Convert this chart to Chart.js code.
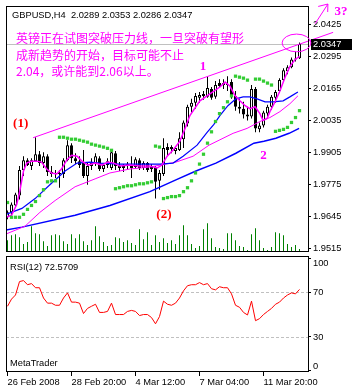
<!DOCTYPE html>
<html>
<head>
<meta charset="utf-8">
<script src="https://cdn.jsdelivr.net/npm/chart.js@4.4.1/dist/chart.umd.min.js"></script>
<style>
    body { margin: 0; background: #fff; }
    #wrap { position: relative; width: 352px; height: 391px; overflow: hidden; background: #fff; }
    canvas { position: absolute; left: 0; }
    .mt { position: absolute; font: 9.3px 'Liberation Sans', Arial, sans-serif; line-height: 12px; color: #000; white-space: pre; }
    #note { position: absolute; left: 16px; top: 30px; font: 12px 'Noto Sans CJK SC', sans-serif; line-height: 16.7px; color: #ff00ff; white-space: pre; }
</style>
</head>
<body>
<div id="wrap">
    <canvas id="priceChart" width="352" height="256" style="top:0"></canvas>
    <canvas id="rsiChart" width="352" height="136" style="top:255px"></canvas>
    <div class="mt" style="left:12px;top:9px">GBPUSD,H4  2.0289 2.0353 2.0286 2.0347</div>
    <div id="note">英镑正在试图突破压力线，一旦突破有望形
成新趋势的开始，目标可能不止
2.04，或许能到2.06以上。</div>
    <div class="mt" style="left:10px;top:261px">RSI(12) 72.5709</div>
    <div class="mt" style="left:10px;top:357px">MetaTrader</div>
</div>
<script>
// Eixo do tempo (barras H4, índice 0 = 26 Feb 2008)
const tickIndex = [0, 16, 32, 48, 64];
const tickLabels = ['26 Feb 2008', '28 Feb 20:00', '4 Mar 12:00', '7 Mar 04:00', '11 Mar 20:00'];

// Rótulos dos eixos de preço e RSI
const priceTicks = [1.9515, 1.9645, 1.9775, 1.9905, 2.0035, 2.0165, 2.0295, 2.0425];
const rsiTicks = [0, 30, 70, 100];
const rsiLevels = [30, 70];

// Velas GBPUSD H4
const open = [1.9643, 1.9663, 1.9691, 1.9731, 1.9835, 1.9875, 1.9851, 1.9871, 1.9899, 1.9863,
    1.9891, 1.9827, 1.9819, 1.9823, 1.9819, 1.9875, 1.9936, 1.9883, 1.9871, 1.9863,
    1.9811, 1.9851, 1.9863, 1.9883, 1.9839, 1.9855, 1.9843, 1.9903, 1.9851, 1.9843,
    1.9851, 1.9855, 1.9847, 1.9875, 1.9843, 1.9863, 1.9839, 1.9843, 1.9791, 1.9819,
    1.9928, 1.9920, 1.9912, 1.9916, 1.9960, 2.0024, 2.0092, 2.0108, 2.0128, 2.0136,
    2.0132, 2.0164, 2.0132, 2.0188, 2.0180, 2.0184, 2.0192, 2.0136, 2.0092, 2.0084,
    2.0060, 2.0052, 2.0164, 2.0000, 2.0016, 2.0064, 2.0092, 2.0128, 2.0156, 2.0200,
    2.0236, 2.0252, 2.0284, 2.0289];
const high = [1.9671, 1.9703, 1.9743, 1.9851, 1.9891, 1.9883, 1.9883, 1.9968, 1.9912, 1.9907,
    1.9899, 1.9851, 1.9835, 1.9835, 1.9883, 1.9956, 1.9944, 1.9903, 1.9891, 1.9916,
    1.9863, 1.9883, 1.9903, 1.9891, 1.9863, 1.9883, 1.9916, 1.9912, 1.9867, 1.9859,
    1.9867, 1.9891, 1.9887, 1.9883, 1.9871, 1.9867, 1.9859, 1.9851, 1.9835, 1.9964,
    1.9944, 1.9936, 1.9932, 1.9988, 2.0036, 2.0100, 2.0124, 2.0148, 2.0152, 2.0156,
    2.0216, 2.0172, 2.0196, 2.0204, 2.0204, 2.0216, 2.0204, 2.0156, 2.0124, 2.0112,
    2.0092, 2.0180, 2.0172, 2.0028, 2.0076, 2.0100, 2.0140, 2.0160, 2.0208, 2.0248,
    2.0260, 2.0292, 2.0316, 2.0353];
const low = [1.9635, 1.9651, 1.9683, 1.9715, 1.9811, 1.9851, 1.9835, 1.9867, 1.9851, 1.9843,
    1.9811, 1.9807, 1.9803, 1.9763, 1.9803, 1.9871, 1.9863, 1.9859, 1.9843, 1.9803,
    1.9775, 1.9835, 1.9851, 1.9831, 1.9827, 1.9843, 1.9835, 1.9835, 1.9831, 1.9827,
    1.9835, 1.9803, 1.9839, 1.9835, 1.9835, 1.9827, 1.9827, 1.9719, 1.9755, 1.9811,
    1.9895, 1.9903, 1.9899, 1.9912, 1.9924, 2.0012, 2.0068, 2.0084, 2.0108, 2.0120,
    2.0128, 2.0120, 2.0124, 2.0172, 2.0164, 2.0156, 2.0124, 2.0076, 2.0064, 2.0044,
    2.0036, 2.0044, 1.9988, 1.9988, 2.0008, 2.0052, 2.0080, 2.0108, 2.0148, 2.0192,
    2.0224, 2.0248, 2.0276, 2.0286];
const close = [1.9663, 1.9695, 1.9735, 1.9835, 1.9875, 1.9855, 1.9875, 1.9899, 1.9863, 1.9891,
    1.9827, 1.9819, 1.9823, 1.9819, 1.9875, 1.9936, 1.9883, 1.9871, 1.9855, 1.9811,
    1.9851, 1.9863, 1.9891, 1.9839, 1.9855, 1.9871, 1.9907, 1.9851, 1.9843, 1.9851,
    1.9859, 1.9843, 1.9879, 1.9843, 1.9863, 1.9835, 1.9847, 1.9787, 1.9823, 1.9924,
    1.9916, 1.9928, 1.9924, 1.9964, 2.0028, 2.0092, 2.0108, 2.0136, 2.0140, 2.0144,
    2.0168, 2.0128, 2.0180, 2.0176, 2.0188, 2.0180, 2.0132, 2.0092, 2.0084, 2.0060,
    2.0052, 2.0164, 2.0004, 2.0016, 2.0068, 2.0092, 2.0132, 2.0152, 2.0200, 2.0240,
    2.0252, 2.0284, 2.0288, 2.0347];
const volume = [1200, 1700, 1800, 1500, 800, 1000, 2600, 1900, 1800, 1100,
    600, 1700, 1800, 1700, 1100, 800, 1800, 1400, 1800, 1100,
    700, 1200, 2600, 1600, 1000, 600, 700, 1500, 1400, 1000,
    1200, 900, 700, 2300, 1300, 2000, 700, 1700, 1000, 1400,
    900, 1200, 800, 1700, 2700, 1700, 800, 400, 600, 2300,
    2900, 1400, 500, 400, 300, 1900, 1900, 1200, 600, 500,
    200, 1800, 2400, 1200, 400, 200, 500, 2000, 1900, 1700,
    800, 500, 700, 300];

// Médias móveis: [barra, preço]
const fastMa = [[-0.375, 1.9643], [1.0, 1.9651], [2.3, 1.9695], [3.1, 1.9751], [4.0, 1.9831], [4.8, 1.9863],
    [6.0, 1.9871], [7.3, 1.9871], [8.5, 1.9867], [9.8, 1.9839], [11.0, 1.9823], [12.3, 1.9819],
    [13.5, 1.9839], [14.8, 1.9875], [16.0, 1.9895], [17.4, 1.9891], [18.6, 1.9871], [20.1, 1.9855],
    [21.9, 1.9863], [23.6, 1.9855], [25.1, 1.9867], [26.6, 1.9863], [28.1, 1.9851], [30.6, 1.9855],
    [33.1, 1.9851], [35.6, 1.9851], [37.4, 1.9843], [38.6, 1.9855], [39.9, 1.9891], [41.4, 1.9916],
    [43.1, 1.9952], [44.4, 2.0004], [45.6, 2.0056], [48.1, 2.0116], [50.6, 2.0144], [53.1, 2.0172],
    [54.4, 2.0192], [55.6, 2.0176], [56.9, 2.0136], [58.1, 2.0116], [59.4, 2.0096], [60.6, 2.0084],
    [61.9, 2.0092], [63.1, 2.0064], [63.9, 2.0036], [64.9, 2.0044], [65.6, 2.0072], [66.9, 2.0112],
    [68.1, 2.0156], [69.4, 2.0212], [70.6, 2.0256], [71.9, 2.0284], [73.0, 2.0296]];
const midMa = [[-0.375, 1.9655], [3.6, 1.9679], [6.9, 1.9719], [10.6, 1.9775], [14.4, 1.9831], [17.4, 1.9863],
    [20.6, 1.9867], [23.1, 1.9863], [28.1, 1.9859], [33.1, 1.9859], [38.1, 1.9859], [41.4, 1.9863],
    [43.9, 1.9891], [47.4, 1.9936], [49.9, 1.9988], [51.6, 2.0020], [53.1, 2.0056], [55.1, 2.0096],
    [57.1, 2.0124], [58.9, 2.0132], [60.6, 2.0132], [62.4, 2.0124], [64.4, 2.0112], [66.4, 2.0112],
    [68.9, 2.0116], [70.6, 2.0132], [72.6, 2.0152]];
const slowMa = [[-0.375, 1.9575], [4.4, 1.9607], [8.1, 1.9663], [11.9, 1.9711], [16.9, 1.9767], [21.9, 1.9799],
    [25.6, 1.9823], [30.6, 1.9839], [35.6, 1.9847], [42.1, 1.9867], [46.4, 1.9891], [50.4, 1.9936],
    [56.4, 1.9984], [59.9, 2.0004], [63.1, 2.0032], [65.6, 2.0048], [68.1, 2.0072], [70.6, 2.0104],
    [72.6, 2.0136]];
const longMa = [[-0.375, 1.9591], [3.6, 1.9603], [16.9, 1.9651], [25.6, 1.9691], [35.6, 1.9747], [42.1, 1.9795],
    [47.1, 1.9831], [52.1, 1.9863], [57.1, 1.9903], [61.6, 1.9944], [64.1, 1.9952], [67.1, 1.9964],
    [70.4, 1.9984], [72.9, 2.0004]];

// Parabolic SAR (null = sem ponto)
const sar = [1.9703, 1.9643, 1.9643, 1.9643, 1.9655, 1.9675, 1.9691, 1.9707, 1.9731, 1.9755,
    1.9787, 1.9791, 1.9791, 1.9968, 1.9968, 1.9964, 1.9960, 1.9960, 1.9956, 1.9952,
    1.9948, 1.9940, 1.9936, 1.9932, 1.9928, 1.9923, 1.9915, 1.9759, 1.9763, 1.9767,
    1.9771, 1.9771, 1.9775, 1.9779, 1.9779, 1.9783, 1.9787, 1.9932, 1.9928, 1.9719,
    1.9723, 1.9727, 1.9727, 1.9731, 1.9747, 1.9763, 1.9791, 1.9823, 1.9859, 1.9899,
    1.9944, 1.9990, 2.0032, 2.0064, 2.0088, 2.0112, 2.0136, 2.0216, 2.0212, 2.0208,
    2.0200, null, 2.0204, 2.0204, 2.0196, 2.0188, 2.0180, 1.9992, 1.9996, 2.0000,
    2.0008, 2.0028, 2.0048, 2.0076];

// RSI(12)
const rsi = [57.5, 63.9, 67.6, 79.6, 80.5, 76.8, 77.8, 74.1, 74.1, 64.9,
    60.3, 60.3, 58.4, 58.4, 64.9, 69.5, 61.2, 61.2, 60.3, 51.0,
    55.6, 57.5, 59.3, 52.0, 52.0, 52.9, 60.3, 50.1, 50.1, 50.1,
    52.9, 53.8, 52.9, 49.2, 50.1, 50.1, 47.4, 41.8, 48.3, 62.1,
    59.3, 58.4, 60.3, 64.9, 71.3, 75.9, 76.8, 76.8, 78.7, 76.8,
    77.8, 73.2, 72.2, 75.0, 74.1, 74.1, 68.6, 58.4, 56.6, 52.0,
    49.7, 62.1, 44.6, 46.4, 50.1, 52.9, 55.6, 59.3, 61.2, 64.9,
    67.6, 69.5, 68.6, 72.57];

// Linha de tendência: [barra, preço]
const trendLine = [[6.4, 1.9966], [81.4, 2.0394]];

// Anotações (barra, preço)
const marks = [
    { text: '(1)', x: 3.3, y: 2.0025, color: '#ff0000' },
    { text: '(2)', x: 39.1, y: 1.9653, color: '#ff0000' },
    { text: '1', x: 48.9, y: 2.0254, color: '#ff00ff' },
    { text: '2', x: 64.0, y: 1.9893, color: '#ff00ff' },
    { text: '3?', x: 83.4, y: 2.0479, color: '#ff00ff' }
];
const ring = { x: 72.25, y: 2.0351, rx: 3.6, ry: 0.0036 };
const arrow = { x0: 76.9, y0: 2.0429, x1: 80.1, y1: 2.0509 };

const axisFont = { family: 'Liberation Sans', size: 9.3 };
const xRange = { min: -0.375, max: 75.125 };

function toPoints(list) {
    return list.map(p => ({ x: p[0], y: p[1] }));
}

// Moldura, preço atual e desenhos do painel principal
const priceDecor = {
    id: 'priceDecor',
    beforeDatasetsDraw(chart) {
        const { ctx, chartArea: a, scales: { y } } = chart;
        const py = Math.round(y.getPixelForValue(close[close.length - 1])) + 0.5;
        ctx.save();
        ctx.strokeStyle = '#c0c0c0';
        ctx.lineWidth = 1;
        ctx.beginPath();
        ctx.moveTo(a.left, py);
        ctx.lineTo(a.right, py);
        ctx.stroke();
        ctx.restore();
    },
    afterDraw(chart) {
        const { ctx, chartArea: a, scales: { x, y } } = chart;
        ctx.save();
        ctx.strokeStyle = '#000';
        ctx.lineWidth = 1;
        ctx.strokeRect(a.left + 0.5, a.top + 0.5, a.width, a.height - 1);

        // caixa do último preço
        const last = close[close.length - 1];
        const py = Math.round(y.getPixelForValue(last));
        ctx.fillStyle = '#000';
        ctx.fillRect(a.right + 3, py - 5, chart.width - a.right - 3, 11);
        ctx.fillStyle = '#fff';
        ctx.font = '9.3px "Liberation Sans"';
        ctx.textBaseline = 'middle';
        ctx.textAlign = 'left';
        ctx.fillText(last.toFixed(4), a.right + 5, py + 0.5);

        // elipse em volta da última vela
        const ex = x.getPixelForValue(ring.x);
        const ey = y.getPixelForValue(ring.y);
        const rx = x.getPixelForValue(ring.x + ring.rx) - ex;
        const ry = ey - y.getPixelForValue(ring.y + ring.ry);
        ctx.strokeStyle = '#ff00ff';
        ctx.beginPath();
        ctx.ellipse(ex, ey, rx, ry, 0, 0, Math.PI * 2);
        ctx.stroke();

        // seta
        const ax0 = x.getPixelForValue(arrow.x0), ay0 = y.getPixelForValue(arrow.y0);
        const ax1 = x.getPixelForValue(arrow.x1), ay1 = y.getPixelForValue(arrow.y1);
        const ang = Math.atan2(ay1 - ay0, ax1 - ax0);
        ctx.beginPath();
        ctx.moveTo(ax0, ay0);
        ctx.lineTo(ax1, ay1);
        ctx.moveTo(ax1 + 8 * Math.cos(ang + Math.PI - 0.55), ay1 + 8 * Math.sin(ang + Math.PI - 0.55));
        ctx.lineTo(ax1, ay1);
        ctx.lineTo(ax1 + 10 * Math.cos(ang + Math.PI + 0.75), ay1 + 10 * Math.sin(ang + Math.PI + 0.75));
        ctx.stroke();

        // rótulos
        ctx.font = 'bold 13px "Liberation Serif"';
        ctx.textAlign = 'center';
        marks.forEach(m => {
            ctx.fillStyle = m.color;
            ctx.fillText(m.text, x.getPixelForValue(m.x), y.getPixelForValue(m.y));
        });
        ctx.restore();
    }
};

// Moldura, níveis e rótulos do painel RSI
const rsiDecor = {
    id: 'rsiDecor',
    beforeDatasetsDraw(chart) {
        const { ctx, chartArea: a, scales: { y } } = chart;
        ctx.save();
        ctx.strokeStyle = '#c0c0c0';
        ctx.lineWidth = 1;
        ctx.setLineDash([3, 2]);
        rsiLevels.forEach(v => {
            const py = Math.round(y.getPixelForValue(v)) + 0.5;
            ctx.beginPath();
            ctx.moveTo(a.left, py);
            ctx.lineTo(a.right, py);
            ctx.stroke();
        });
        ctx.restore();
    },
    afterDraw(chart) {
        const { ctx, chartArea: a, scales: { y } } = chart;
        ctx.save();
        ctx.strokeStyle = '#000';
        ctx.lineWidth = 1;
        ctx.strokeRect(a.left + 0.5, a.top + 0.5, a.width, a.height - 1);
        ctx.fillStyle = '#000';
        ctx.font = '9.3px "Liberation Sans"';
        ctx.textBaseline = 'middle';
        ctx.textAlign = 'left';
        rsiTicks.forEach(v => {
            const py = Math.min(Math.max(y.getPixelForValue(v), a.top + 7), a.bottom - 6);
            ctx.fillText(String(v), a.right + 5, py);
        });
        ctx.restore();
    }
};

function buildPriceChart() {
    const bodyColors = open.map((o, i) => close[i] >= o ? '#ffffff' : '#000000');

    new Chart(document.getElementById('priceChart'), {
        type: 'bar',
        data: {
            datasets: [
                {
                    type: 'bar', data: volume.map((v, i) => ({ x: i, y: v })), yAxisID: 'yv',
                    backgroundColor: '#008000', barThickness: 1, grouped: false, inflateAmount: 0, order: 10
                },
                {
                    type: 'bar', data: high.map((h, i) => ({ x: i, y: [low[i], h] })), yAxisID: 'y',
                    backgroundColor: '#000000', barThickness: 1, grouped: false, inflateAmount: 0, order: 9
                },
                {
                    type: 'bar', data: open.map((o, i) => ({ x: i, y: [o, close[i]] })), yAxisID: 'y',
                    backgroundColor: bodyColors, borderColor: '#000000', borderWidth: 1, borderSkipped: false,
                    barThickness: 3, grouped: false, inflateAmount: 0, order: 8
                },
                {
                    type: 'line', data: toPoints(longMa), yAxisID: 'y',
                    borderColor: '#0000ff', borderWidth: 1.5, pointRadius: 0, order: 7
                },
                {
                    type: 'line', data: toPoints(slowMa), yAxisID: 'y',
                    borderColor: '#ff00ff', borderWidth: 1, pointRadius: 0, order: 6
                },
                {
                    type: 'line', data: toPoints(midMa), yAxisID: 'y',
                    borderColor: '#0000ff', borderWidth: 1.2, pointRadius: 0, order: 5
                },
                {
                    type: 'line', data: toPoints(fastMa), yAxisID: 'y',
                    borderColor: '#ff00ff', borderWidth: 1.5, pointRadius: 0, order: 4
                },
                {
                    type: 'line', data: sar.map((v, i) => ({ x: i, y: v })).filter(p => p.y !== null), yAxisID: 'y',
                    showLine: false, pointStyle: 'rect', pointRadius: 2.3,
                    pointBackgroundColor: '#33cc33', pointBorderWidth: 0, order: 3
                },
                {
                    type: 'line', data: toPoints(trendLine), yAxisID: 'y',
                    borderColor: '#ff00ff', borderWidth: 1, pointRadius: 0, clip: false, order: 2
                }
            ]
        },
        options: {
            responsive: false,
            animation: false,
            devicePixelRatio: 1,
            layout: { padding: { left: 6, top: 6, right: 0, bottom: 1 } },
            plugins: { legend: { display: false }, tooltip: { enabled: false } },
            scales: {
                x: { type: 'linear', display: false, min: xRange.min, max: xRange.max, offset: false },
                y: {
                    position: 'right',
                    min: 1.9502,
                    max: 2.0501,
                    afterBuildTicks: s => { s.ticks = priceTicks.map(v => ({ value: v })); },
                    afterFit: s => { s.width = 44; s.paddingTop = 0; s.paddingBottom = 0; },
                    ticks: { font: axisFont, color: '#000', padding: 2, autoSkip: false, callback: v => v.toFixed(4) },
                    grid: { drawOnChartArea: false, tickLength: 3, tickColor: '#000' },
                    border: { display: false }
                },
                yv: { display: false, min: 0, max: 24900 }
            }
        },
        plugins: [priceDecor]
    });
}

function buildRsiChart() {
    new Chart(document.getElementById('rsiChart'), {
        type: 'line',
        data: {
            datasets: [{
                data: rsi.map((v, i) => ({ x: i, y: v })),
                borderColor: '#ff0000', borderWidth: 1, pointRadius: 0
            }]
        },
        options: {
            responsive: false,
            animation: false,
            devicePixelRatio: 1,
            layout: { padding: { left: 6, top: 1, right: 0, bottom: 0 } },
            plugins: { legend: { display: false }, tooltip: { enabled: false } },
            scales: {
                x: {
                    type: 'linear', min: xRange.min, max: xRange.max, offset: false,
                    afterBuildTicks: s => { s.ticks = tickIndex.map(v => ({ value: v })); },
                    afterFit: s => { s.height = 19; s.paddingLeft = 0; s.paddingRight = 0; },
                    ticks: {
                        font: axisFont, color: '#000', padding: 1, align: 'start',
                        autoSkip: false, maxRotation: 0, callback: (v, i) => tickLabels[i]
                    },
                    grid: { drawOnChartArea: false, tickLength: 4, tickColor: '#000' },
                    border: { display: false }
                },
                y: {
                    position: 'right',
                    min: -1.34,
                    max: 102.5,
                    afterBuildTicks: s => { s.ticks = rsiTicks.map(v => ({ value: v })); },
                    afterFit: s => { s.width = 44; s.paddingTop = 0; s.paddingBottom = 0; },
                    ticks: { display: false },
                    grid: { drawOnChartArea: false, tickLength: 3, tickColor: '#000' },
                    border: { display: false }
                }
            }
        },
        plugins: [rsiDecor]
    });
}

buildPriceChart();
buildRsiChart();
</script>
</body>
</html>
